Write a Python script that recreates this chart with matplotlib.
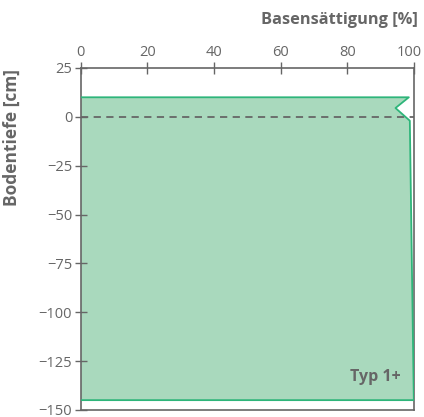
import matplotlib
matplotlib.use("Agg")
import matplotlib.pyplot as plt
from matplotlib.transforms import ScaledTranslation

plt.rcParams['font.family'] = ['Open Sans', 'DejaVu Sans']

# Profil: Basensaettigung [%] ueber Bodentiefe [cm]
depth = [10, 4.5, -2, -145]
base_sat = [98.5, 94.5, 98.8, 100]
xticks = [0, 20, 40, 60, 80, 100]
yticks = [25, 0, -25, -50, -75, -100, -125, -150]
label_text = "Typ 1+"

grey = '#666666'
fill_col = '#a9d9bd'
edge_col = '#2eb57a'

fig = plt.figure(figsize=(4.24, 4.17), dpi=100)
ax = fig.add_axes([0.190, 0.017, 0.786, 0.820])

xs = [0] + base_sat + [0]
ys = [depth[0]] + depth + [depth[-1]]
ax.fill(xs, ys, facecolor=fill_col, edgecolor='none', zorder=1)
ax.plot(xs, ys, color=edge_col, lw=1.3, zorder=3)
ax.axhline(0, color=grey, lw=1.3, ls=(0, (4, 3)), zorder=2)

ax.set_xlim(0, 100)
ax.set_ylim(-150, 25)
ax.xaxis.tick_top()
ax.set_xticks(xticks)
ax.set_yticks(yticks)
ax.set_yticklabels([str(v).replace('-', '\u2212') for v in yticks])
ax.tick_params(colors=grey, labelcolor=grey, labelsize=10.5, width=1, length=8,
               direction='inout', pad=2)
for s in ax.spines.values():
    s.set_color(grey)
    s.set_linewidth(1.2)

# "100" oben rechts etwas nach links, damit es nicht am Rand abgeschnitten wird
last = ax.get_xticklabels()[-1]
last.set_transform(last.get_transform() + ScaledTranslation(-5 / 100, 0, fig.dpi_scale_trans))

fig.text(0.027, 0.67, "Bodentiefe [cm]", color=grey, fontsize=12.5, fontweight='bold',
         ha='center', va='center', rotation=90)
fig.text(0.986, 0.952, "Basensättigung [%]", color=grey, fontsize=11.8, fontweight='bold',
         ha='right', va='center')
ax.text(96, -133, label_text, color=grey, fontsize=11.5, fontweight='bold', ha='right', va='center')

fig.savefig("out.png", dpi=100)
